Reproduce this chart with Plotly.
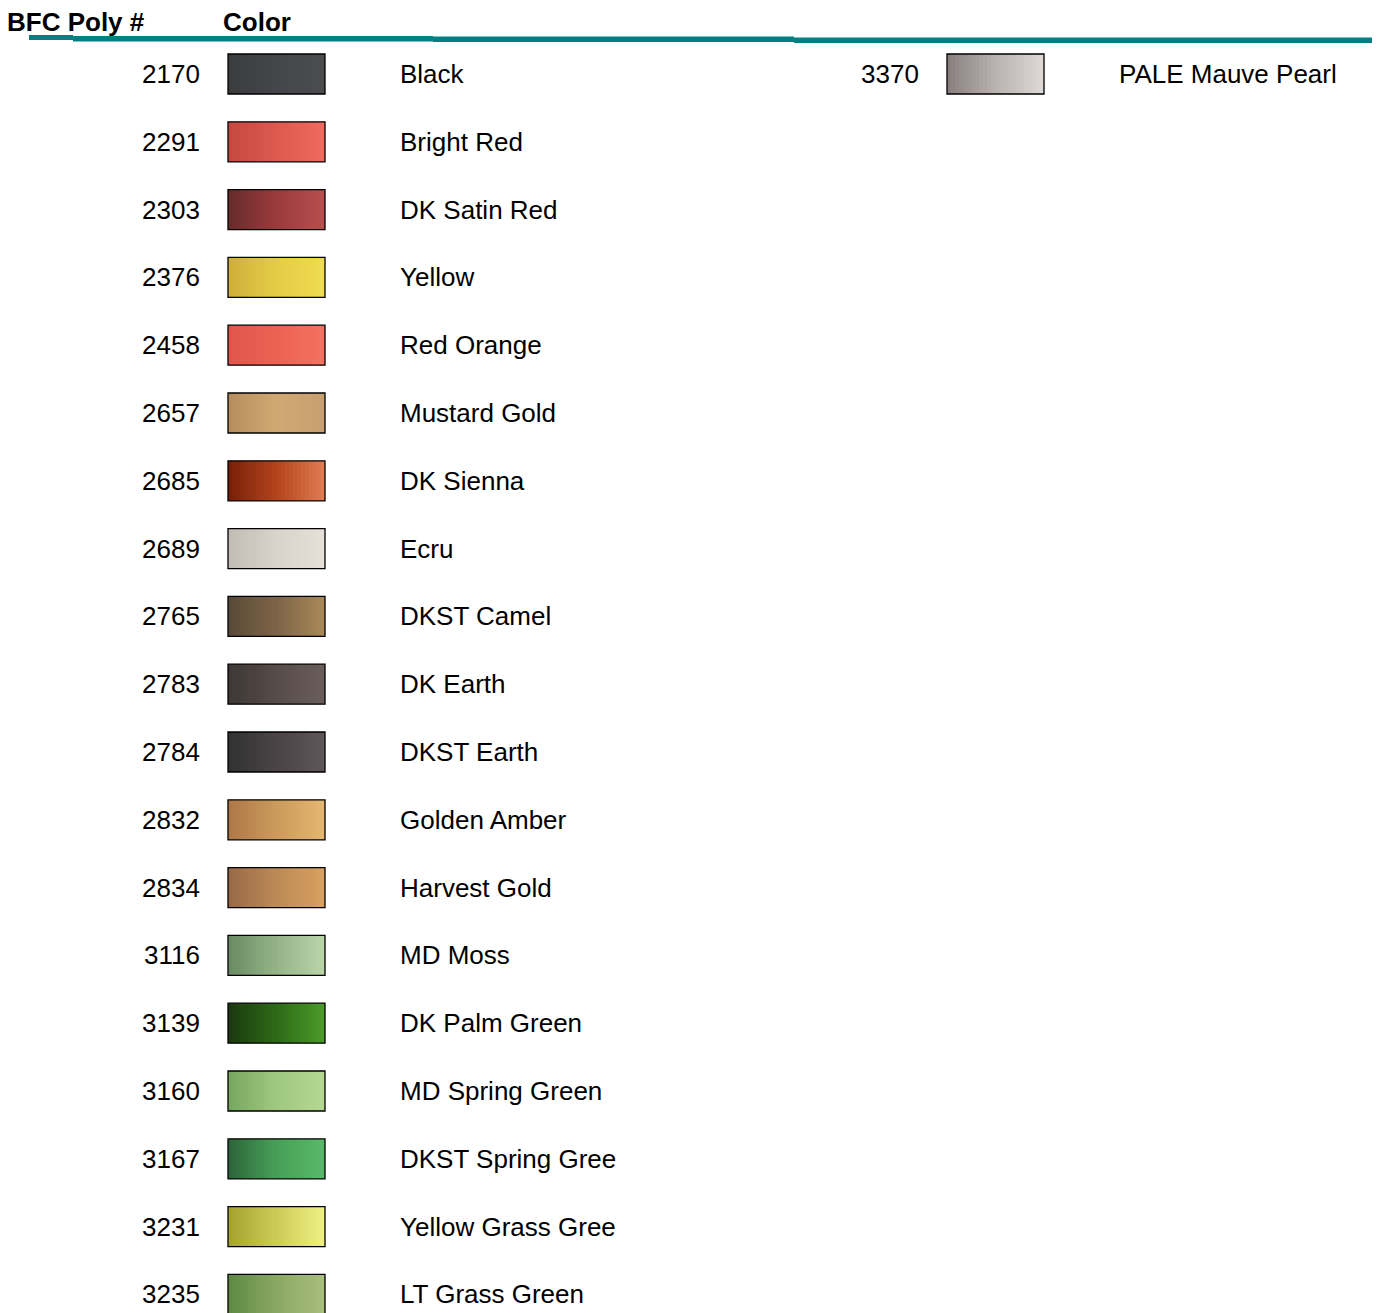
import plotly.graph_objects as go

# ---- data ----
codes = ["2170", "2291", "2303", "2376", "2458", "2657", "2685", "2689", "2765", "2783",
         "2784", "2832", "2834", "3116", "3139", "3160", "3167", "3231", "3235", "3370"]
names = ["Black", "Bright Red", "DK Satin Red", "Yellow", "Red Orange", "Mustard Gold",
         "DK Sienna", "Ecru", "DKST Camel", "DK Earth", "DKST Earth", "Golden Amber",
         "Harvest Gold", "MD Moss", "DK Palm Green", "MD Spring Green", "DKST Spring Gree",
         "Yellow Grass Gree", "LT Grass Green", "PALE Mauve Pearl"]
# swatch colours (left, middle, right) as seen on the thread photos
swatch_left = ["#3a3c3e", "#c64840", "#6a2c2c", "#d0b03c", "#e0564a", "#b88e5e", "#7a2008",
               "#c2beb6", "#5a4a38", "#3e3836", "#323233", "#ae7848", "#986a48", "#6a8c64",
               "#1c3a10", "#78a860", "#2e663a", "#a6a42e", "#5e8a44", "#8a8080"]
swatch_mid = ["#44464a", "#dc5a50", "#9a3a3c", "#e4cc46", "#ec6252", "#d0a872", "#b4441c",
              "#d8d4cc", "#7e6448", "#564c48", "#4a4446", "#cc9a5c", "#bc8a56", "#94b488",
              "#2e6a18", "#a0c880", "#48a058", "#cccc58", "#8aa862", "#b8b2b0"]
swatch_right = ["#4a4c4e", "#f06a5e", "#b84e4e", "#f0dc50", "#f47060", "#c8a070", "#e07a50",
                "#e4e0d8", "#a88858", "#6a5e5a", "#5e5658", "#e4b670", "#d8a060", "#b8d4a8",
                "#4a9a2a", "#b4d890", "#58b868", "#eef080", "#a8be7c", "#dcd8d6"]
headers = ["BFC Poly #", "Color"]
rows_per_col = 19

FONT = "Liberation Sans, Arial, sans-serif"

fig = go.Figure()

col_offset = 719
num_right = 202
sw_x0, sw_x1 = 228, 325
name_left = 398
half_h = 0.295
nstrip = 24

for i, code in enumerate(codes):
    col = i // rows_per_col
    row = i % rows_per_col
    off = col * col_offset
    x0 = sw_x0 + off
    x1 = sw_x1 + off
    edges = [x0 + (x1 - x0) * k / nstrip for k in range(nstrip + 1)]
    z = [[k / (nstrip - 1) for k in range(nstrip)]]
    cs = [[0, swatch_left[i]], [0.5, swatch_mid[i]], [1, swatch_right[i]]]
    fig.add_trace(go.Heatmap(x=edges, y=[row - half_h, row + half_h], z=z,
                             colorscale=cs, showscale=False, hoverinfo="skip",
                             zmin=0, zmax=1))
    fig.add_shape(type="rect", x0=x0, x1=x1, y0=row - half_h, y1=row + half_h,
                  line=dict(color="#000000", width=1.3), xref="x", yref="y")
    fig.add_annotation(x=num_right + off, y=row, text=code, showarrow=False,
                       xanchor="right", yanchor="middle",
                       font=dict(family=FONT, size=26, color="#000"))
    fig.add_annotation(x=name_left + off, y=row, text=names[i], showarrow=False,
                       xanchor="left", yanchor="middle",
                       font=dict(family=FONT, size=26, color="#000"))

# headers
for hx, hshift, htxt in zip([8, 222], [-2, 0], headers):
    fig.add_annotation(x=hx, xshift=hshift, y=-0.77, text="<b>%s</b>" % htxt,
                       showarrow=False, xanchor="left", yanchor="middle", borderpad=0,
                       font=dict(family=FONT, size=26, color="#000"))

# page offset of the plot div inside the browser body
page_off = 8
W, H = 1380 - page_off, 1313 - page_off

# teal header rule (segments with slight steps)
teal = "#008080"
segs = [(29, 73, 35, 40), (73, 433, 36, 41.5), (433, 794, 36.5, 42), (794, 1380, 37.5, 43)]
for a, b, t, u in segs:
    fig.add_shape(type="rect", xref="x", yref="paper", x0=a, x1=b,
                  y0=1 - (u - page_off) / H, y1=1 - (t - page_off) / H,
                  line=dict(width=0), fillcolor=teal)

pitch = 67.8
top_px = 74 - page_off
fig.update_layout(
    width=W, height=H,
    margin=dict(l=0, r=0, t=0, b=0),
    paper_bgcolor="white", plot_bgcolor="white",
    xaxis=dict(range=[page_off, page_off + W], visible=False, fixedrange=True),
    yaxis=dict(range=[(H - top_px) / pitch, -top_px / pitch], visible=False,
               fixedrange=True),
    showlegend=False,
)

fig.write_html("out.html")
